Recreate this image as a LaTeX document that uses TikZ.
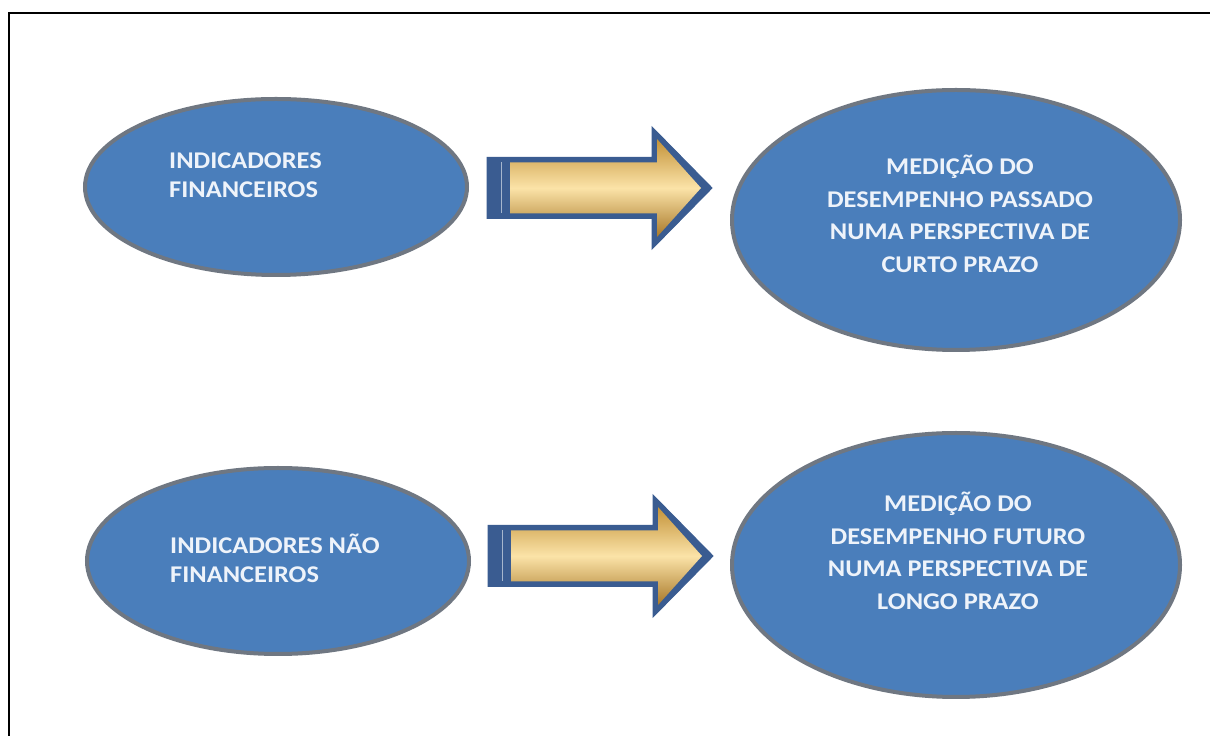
\documentclass[tikz,border=0pt]{standalone}
\usepackage{fontspec}
\newfontfamily\lblfont{Carlito}[FakeStretch=1.1]
\usetikzlibrary{shapes.geometric}
\definecolor{ellfill}{HTML}{4A7EBB}
\definecolor{ellborder}{HTML}{6F7782}
\definecolor{txtcol}{HTML}{EEF3FA}
\definecolor{arrblue}{HTML}{3A5C91}
\definecolor{golddark}{HTML}{C39238}
\definecolor{goldlight}{HTML}{FBE3A8}
\definecolor{goldbot}{HTML}{A87828}
\tikzset{
  oval/.style={ellipse, draw=ellborder, line width=4pt, fill=ellfill, inner sep=0pt},
  lbltext/.style={text=txtcol, font=\lblfont\bfseries\fontsize{24}{29}\selectfont, inner sep=0pt},
  rbltext/.style={text=txtcol, font=\lblfont\bfseries\fontsize{24}{32.5}\selectfont, inner sep=0pt, align=center},
  goldarrow/.pic={
    \path[fill=arrblue, draw=arrblue, line width=1pt, line join=miter]
      (0,30.5) -- (165,30.5) -- (165,61) -- (225,0) -- (165,-61) -- (165,-30.5) -- (0,-30.5) -- cycle;
    \path[top color=golddark, bottom color=goldbot, middle color=goldlight]
      (23,25.5) -- (170,25.5) -- (170,49) -- (214,0) -- (170,-49) -- (170,-25.5) -- (23,-25.5) -- cycle;
    \draw[line width=1pt, color=arrblue!45!white] (14,25.5) -- (14,-25.5);
  }
}
\begin{document}
\begin{tikzpicture}[x=1pt, y=1pt]
\useasboundingbox (0,0) rectangle (1210,736);
\fill[white] (0,0) rectangle (1210,736);
% frame
\draw[line width=1.6pt, black] (9,0) -- (9,723) -- (1210,723);

% ellipses
\node[oval, minimum width=382pt, minimum height=176pt] (e1) at (276,549) {};
\node[oval, minimum width=448pt, minimum height=260pt] (e2) at (956,516) {};
\node[oval, minimum width=382pt, minimum height=186pt] (e3) at (278,175) {};
\node[oval, minimum width=448pt, minimum height=264pt] (e4) at (956,171) {};

% texts
\node[lbltext, anchor=west, align=left] (t1) at (169,561) {INDICADORES\\FINANCEIROS};
\node[rbltext] (t2) at (960,522) {MEDIÇÃO DO\\DESEMPENHO PASSADO\\NUMA PERSPECTIVA DE\\CURTO PRAZO};
\node[lbltext, anchor=west, align=left] (t3) at (170,178) {INDICADORES NÃO\\FINANCEIROS};
\node[rbltext] (t4) at (958,185) {MEDIÇÃO DO\\DESEMPENHO FUTURO\\NUMA PERSPECTIVA DE\\LONGO PRAZO};

% arrows
\pic at (487,548) {goldarrow};
\pic at (488,180) {goldarrow};
\end{tikzpicture}
\end{document}
